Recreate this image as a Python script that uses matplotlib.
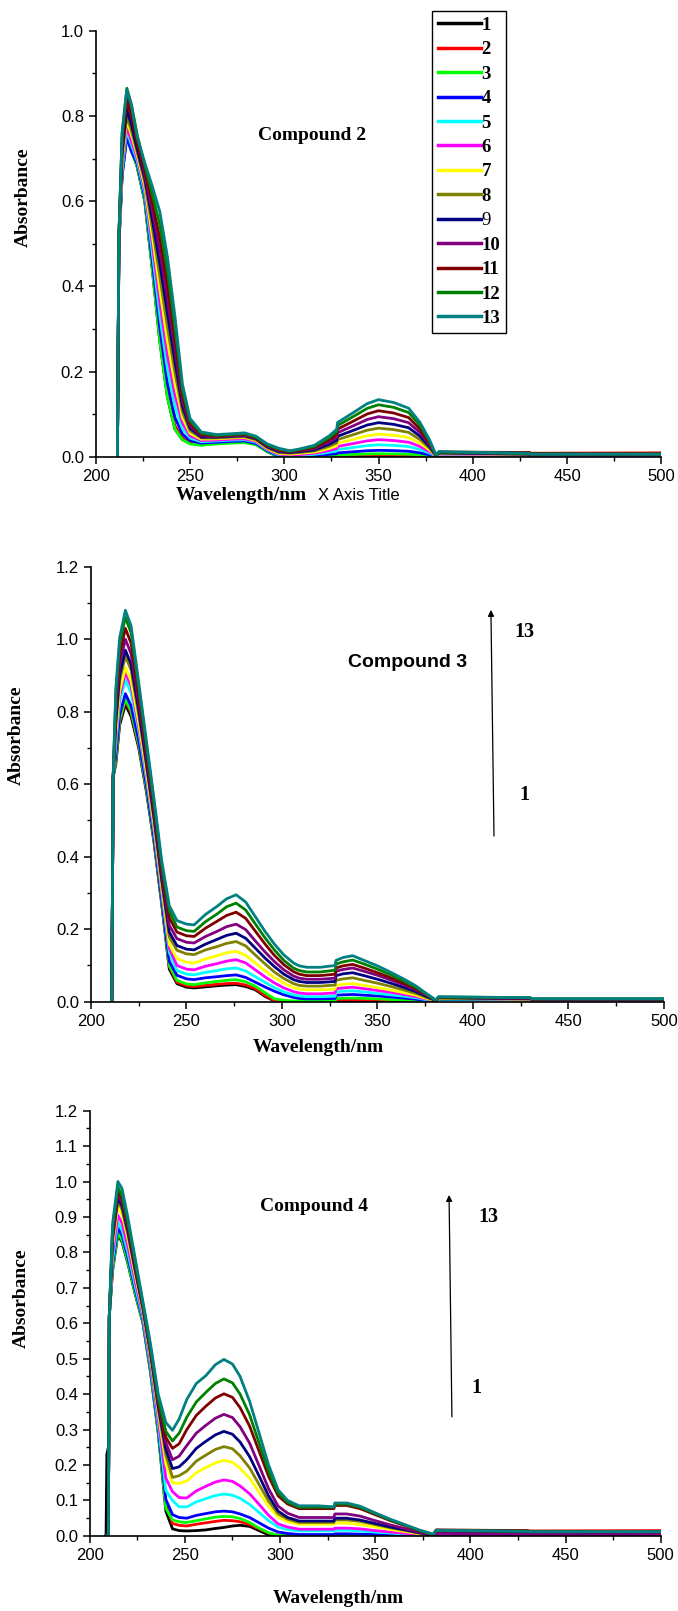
import matplotlib
matplotlib.use("Agg")
import matplotlib.pyplot as plt
from matplotlib.ticker import MultipleLocator, FormatStrFormatter

labels = ["1", "2", "3", "4", "5", "6", "7", "8", "9", "10", "11", "12", "13"]
colors = ["#000000", "#FF0000", "#00FF00", "#0000FF", "#00FFFF", "#FF00FF", "#FFFF00",
          "#808000", "#000080", "#800080", "#800000", "#008000", "#008080"]

# Compound 2 spectra
wl_c2 = [211.5, 212.3, 214, 216.5, 219, 222, 226, 230, 234, 238, 242, 246, 250, 256, 264, 272,
         279, 285, 291, 297, 303, 308, 316, 324, 327.8, 328.3, 336, 344, 350, 358, 366, 372,
         377, 380.5, 382, 430, 431, 500]
abs_c2 = [
    [0, .50, .67, .76, .726, .68, .60, .44, .27, .14, .065, .04, .032, .029, .032, .034, .035, .030, .012, 0, 0, 0, 0, .001, .001, .001, .002, .002, .002, .002, .002, .001, .001, 0, .003, .004, .003, .003],
    [0, .50, .665, .755, .721, .682, .603, .446, .279, .150, .073, .044, .034, .030, .033, .035, .036, .031, .013, .001, 0, 0, .001, .0015, .002, .0024, .003, .0037, .004, .0038, .0034, .0024, .0012, .001, .004, .009, .008, .009],
    [0, .50, .66, .75, .716, .68, .60, .44, .27, .14, .065, .04, .03, .027, .030, .032, .033, .028, .012, 0, 0, 0, .0014, .0026, .0034, .0042, .0053, .0065, .007, .0067, .006, .0042, .0021, .001, .004, .005, .004, .004],
    [0, .50, .66, .75, .716, .687, .609, .46, .301, .173, .092, .053, .038, .032, .034, .036, .037, .031, .014, .002, 0, 0, .003, .0056, .0072, .009, .0114, .014, .015, .0143, .0128, .009, .0045, .001, .004, .005, .004, .004],
    [0, .51, .673, .765, .731, .694, .618, .479, .331, .206, .118, .066, .044, .035, .037, .039, .04, .034, .016, .004, .002, .002, .0056, .0104, .0134, .0168, .0213, .026, .028, .0266, .0238, .0168, .0084, .002, .005, .005, .004, .004],
    [0, .51, .682, .775, .74, .701, .627, .499, .362, .239, .145, .079, .049, .038, .039, .041, .042, .036, .017, .006, .004, .005, .008, .0148, .0192, .024, .0304, .0372, .04, .038, .034, .024, .012, .002, .006, .005, .004, .004],
    [0, .51, .695, .79, .754, .708, .636, .518, .392, .272, .171, .092, .055, .041, .042, .044, .045, .038, .019, .008, .006, .008, .0106, .0196, .0254, .0318, .0403, .0493, .053, .0504, .045, .0318, .0159, .002, .007, .006, .005, .005],
    [0, .52, .704, .80, .764, .715, .645, .538, .423, .305, .198, .105, .061, .044, .044, .046, .047, .040, .021, .010, .008, .010, .0134, .0248, .0322, .0402, .0509, .0623, .067, .0637, .057, .0402, .0201, .002, .008, .006, .005, .005],
    [0, .52, .717, .815, .778, .722, .654, .557, .453, .338, .224, .118, .067, .046, .046, .048, .049, .042, .023, .012, .010, .012, .016, .0296, .0384, .048, .0608, .0744, .08, .076, .068, .048, .024, .003, .009, .006, .005, .005],
    [0, .52, .748, .85, .812, .74, .663, .577, .484, .371, .251, .131, .072, .049, .047, .049, .05, .043, .025, .014, .011, .014, .0188, .0348, .0451, .0564, .0714, .0874, .094, .0893, .0799, .0564, .0282, .003, .010, .007, .005, .005],
    [0, .52, .735, .835, .797, .736, .672, .596, .514, .404, .277, .144, .078, .052, .049, .051, .052, .044, .026, .016, .012, .015, .0216, .040, .0518, .0648, .0821, .1004, .108, .1026, .0918, .0648, .0324, .003, .011, .010, .008, .008],
    [0, .52, .761, .865, .826, .755, .685, .616, .545, .437, .304, .157, .084, .055, .050, .052, .054, .046, .028, .018, .013, .017, .0244, .0451, .0586, .0732, .0927, .1135, .122, .1159, .1037, .0732, .0366, .003, .011, .007, .006, .006],
    [0, .52, .76, .862, .823, .75, .69, .635, .575, .47, .33, .17, .09, .058, .052, .054, .056, .048, .03, .02, .014, .018, .0268, .0496, .0643, .0804, .1018, .1246, .134, .1273, .1139, .0804, .0402, .004, .012, .008, .006, .006],
]

# Compound 3 spectra
wl_c3 = [210.9, 211.6, 213, 215, 218, 221, 225, 229, 233, 237, 241, 245, 250, 254, 260, 266, 271,
         276, 281, 286, 291, 296, 301, 306, 309, 313, 320, 327.8, 328.3, 332, 337, 343, 350, 357,
         364, 370, 375, 380.5, 382, 430, 431, 500]
abs_c3 = [
    [0, .62, .656, .763, .82, .787, .70, .58, .44, .27, .09, .05, .04, .038, .041, .044, .046, .047, .042, .033, .015, .002, 0, 0, 0, 0, 0, 0, .003, .003, .003, .003, .002, .002, .002, .001, .001, .003, .006, .005, .004, .004],
    [0, .62, .664, .772, .83, .797, .707, .586, .445, .275, .097, .054, .044, .042, .045, .048, .05, .051, .046, .036, .018, .003, 0, 0, 0, 0, 0, 0, .005, .006, .006, .005, .005, .004, .003, .002, .001, .003, .006, .005, .004, .004],
    [0, .62, .668, .777, .835, .802, .711, .588, .447, .277, .1, .059, .049, .047, .052, .056, .059, .061, .055, .043, .025, .008, .004, .002, .002, .002, .002, .002, .009, .0096, .01, .009, .008, .006, .005, .0035, .002, .003, .006, .005, .004, .004],
    [0, .62, .68, .791, .85, .816, .722, .597, .454, .284, .111, .073, .063, .061, .066, .069, .072, .074, .067, .054, .041, .029, .019, .012, .009, .008, .008, .009, .018, .019, .02, .018, .016, .013, .01, .007, .004, .003, .007, .006, .005, .005],
    [0, .62, .71, .826, .888, .852, .747, .616, .471, .301, .136, .086, .076, .074, .081, .086, .091, .093, .085, .069, .054, .039, .027, .019, .016, .014, .014, .015, .027, .029, .03, .027, .023, .019, .015, .011, .006, .003, .008, .007, .005, .005],
    [0, .62, .726, .844, .907, .871, .759, .626, .48, .31, .148, .1, .09, .088, .098, .105, .112, .116, .107, .088, .069, .052, .038, .028, .024, .022, .022, .024, .036, .038, .04, .036, .031, .026, .02, .014, .008, .003, .009, .007, .005, .005],
    [0, .62, .738, .857, .922, .885, .77, .635, .487, .317, .158, .119, .109, .107, .118, .127, .135, .139, .128, .107, .086, .067, .051, .039, .035, .033, .033, .035, .045, .048, .05, .045, .039, .032, .025, .018, .01, .003, .009, .007, .006, .006],
    [0, .62, .762, .886, .953, .915, .792, .651, .501, .331, .179, .142, .132, .13, .143, .152, .161, .166, .154, .129, .105, .082, .064, .05, .045, .043, .043, .046, .059, .063, .066, .059, .051, .042, .032, .023, .013, .003, .01, .008, .006, .006],
    [0, .62, .776, .902, .97, .931, .804, .661, .51, .34, .192, .155, .145, .143, .159, .172, .183, .189, .175, .148, .121, .097, .076, .061, .056, .053, .053, .056, .072, .077, .08, .072, .062, .051, .039, .028, .016, .003, .011, .008, .006, .006],
    [0, .62, .8, .93, 1.0, .96, .824, .677, .523, .353, .211, .174, .164, .162, .18, .194, .207, .214, .199, .168, .138, .111, .088, .071, .065, .062, .062, .065, .084, .089, .093, .084, .073, .06, .046, .033, .019, .003, .012, .009, .007, .007],
    [0, .62, .824, .958, 1.03, .989, .846, .693, .537, .367, .232, .192, .182, .18, .203, .222, .238, .247, .23, .195, .16, .128, .102, .083, .076, .072, .072, .076, .093, .099, .103, .093, .08, .066, .05, .036, .021, .003, .012, .01, .007, .007],
    [0, .62, .848, .986, 1.06, 1.018, .866, .709, .55, .38, .251, .206, .196, .194, .221, .242, .262, .272, .253, .215, .177, .143, .114, .093, .086, .082, .082, .087, .104, .11, .115, .104, .09, .074, .056, .04, .023, .003, .013, .011, .008, .008],
    [0, .62, .864, 1.004, 1.08, 1.037, .88, .72, .56, .39, .265, .224, .214, .212, .241, .263, .284, .295, .275, .235, .195, .159, .129, .107, .099, .095, .095, .1, .114, .122, .127, .114, .099, .081, .062, .044, .025, .005, .014, .011, .008, .008],
]

# Compound 4 spectra
wl_c4 = [208.6, 209.0, 209.8, 210.3, 212, 214.8, 217, 220, 224, 228, 232, 236, 240, 243.5, 247,
         251, 256, 261, 266, 270.5, 275, 279, 284, 289, 294, 299, 304, 310, 320, 328.3, 328.8,
         335, 342, 350, 358, 366, 373, 380.5, 382, 430, 431, 500]
abs_c4 = [
    [0, .23, .25, .62, .748, .85, .829, .77, .68, .6, .46, .29, .07, .02, .015, .014, .015, .017, .021, .024, .028, .03, .027, .015, .003, 0, 0, 0, 0, 0, .002, .002, .002, .001, .001, .001, 0, 0, .004, .003, .003, .003],
    [0, 0, 0, .62, .757, .86, .839, .779, .687, .604, .466, .298, .088, .035, .03, .028, .033, .037, .041, .044, .043, .04, .032, .02, .008, .002, 0, 0, 0, 0, .002, .002, .002, .001, .001, .001, 0, .003, .016, .015, .014, .015],
    [0, 0, 0, .62, .752, .855, .834, .774, .683, .602, .462, .293, .078, .045, .04, .038, .043, .048, .053, .055, .054, .049, .038, .022, .009, .002, 0, 0, 0, 0, .003, .003, .003, .002, .001, .001, 0, .003, .006, .005, .004, .004],
    [0, 0, 0, .62, .766, .87, .848, .787, .693, .608, .47, .304, .103, .06, .052, .05, .058, .063, .068, .07, .068, .062, .052, .037, .022, .011, .007, .004, .004, .004, .006, .006, .005, .004, .003, .002, .001, .002, .005, .004, .003, .003],
    [0, 0, 0, .62, .779, .885, .863, .8, .703, .614, .478, .315, .128, .1, .082, .082, .096, .105, .114, .118, .115, .106, .089, .066, .043, .025, .018, .014, .014, .014, .016, .016, .014, .011, .008, .005, .003, .002, .007, .006, .005, .005],
    [0, 0, 0, .62, .796, .905, .882, .818, .717, .622, .49, .331, .163, .125, .108, .107, .127, .14, .152, .158, .154, .141, .119, .089, .058, .034, .025, .019, .019, .019, .022, .022, .02, .015, .011, .007, .004, .002, .005, .004, .003, .003],
    [0, 0, 0, .62, .818, .93, .907, .839, .733, .632, .502, .348, .203, .15, .148, .155, .178, .193, .206, .213, .208, .191, .163, .123, .083, .053, .04, .033, .033, .033, .036, .036, .032, .025, .018, .012, .006, .002, .008, .007, .006, .006],
    [0, 0, 0, .62, .832, .945, .921, .852, .743, .638, .51, .359, .228, .165, .17, .183, .211, .228, .244, .252, .246, .226, .192, .145, .098, .062, .047, .038, .038, .038, .045, .045, .041, .032, .023, .015, .008, .002, .01, .008, .008, .008],
    [0, 0, 0, .62, .84, .955, .931, .861, .75, .642, .516, .367, .245, .19, .195, .215, .247, .267, .285, .295, .287, .265, .224, .169, .113, .07, .052, .042, .042, .042, .05, .05, .045, .035, .025, .017, .009, .002, .011, .009, .008, .008],
    [0, 0, 0, .62, .849, .965, .941, .87, .757, .646, .522, .375, .263, .215, .225, .255, .29, .312, .332, .343, .334, .308, .262, .198, .133, .084, .064, .052, .052, .052, .062, .062, .056, .043, .031, .02, .011, .002, .007, .005, .004, .004],
    [0, 0, 0, .62, .858, .975, .951, .878, .763, .65, .526, .381, .278, .247, .26, .3, .34, .366, .389, .401, .391, .362, .31, .239, .168, .113, .09, .077, .077, .077, .086, .086, .077, .06, .043, .028, .015, .003, .017, .015, .013, .013],
    [0, 0, 0, .62, .867, .985, .96, .887, .77, .654, .532, .389, .295, .268, .29, .335, .378, .405, .43, .443, .432, .4, .342, .262, .182, .121, .095, .081, .081, .081, .09, .09, .081, .063, .045, .03, .016, .004, .015, .013, .012, .012],
    [0, 0, 0, .62, .88, 1.0, .98, .9, .78, .66, .54, .4, .32, .298, .33, .385, .43, .452, .483, .498, .485, .45, .38, .29, .2, .13, .1, .085, .085, .082, .093, .093, .084, .065, .047, .031, .017, .005, .016, .013, .012, .012],
]

SERIF = "Liberation Serif"
SANS = "Liberation Sans"

fig = plt.figure(figsize=(6.78, 16.11), dpi=100)
ax1 = fig.add_axes([0.1412, 0.7165, 0.8342, 0.2644])
ax2 = fig.add_axes([0.1342, 0.3782, 0.8451, 0.2700])
ax3 = fig.add_axes([0.1323, 0.0466, 0.8422, 0.2640])


def draw(ax, wl, spectra, ymax, ymajor, yminor):
    lines = []
    for vals, c, lab in zip(spectra, colors, labels):
        ln, = ax.plot(wl, vals, color=c, lw=2.0, label=lab, solid_joinstyle="round")
        lines.append(ln)
    ax.set_xlim(200, 500)
    ax.set_ylim(0, ymax)
    ax.spines["top"].set_visible(False)
    ax.spines["right"].set_visible(False)
    for s in ("left", "bottom"):
        ax.spines[s].set_linewidth(1.2)
    ax.xaxis.set_major_locator(MultipleLocator(50))
    ax.xaxis.set_minor_locator(MultipleLocator(25))
    ax.yaxis.set_major_locator(MultipleLocator(ymajor))
    ax.yaxis.set_minor_locator(MultipleLocator(yminor))
    ax.yaxis.set_major_formatter(FormatStrFormatter("%.1f"))
    ax.tick_params(which="major", direction="out", length=5, width=1.1, pad=3.5)
    ax.tick_params(which="minor", direction="out", length=3, width=1.0)
    for t in ax.get_xticklabels() + ax.get_yticklabels():
        t.set_fontfamily(SANS)
        t.set_fontsize(12)
    ax.set_ylabel("Absorbance", fontfamily=SERIF, fontweight="bold", fontsize=14)
    return lines


lines1 = draw(ax1, wl_c2, abs_c2, 1.0, 0.2, 0.1)
draw(ax2, wl_c3, abs_c3, 1.2, 0.2, 0.1)
draw(ax3, wl_c4, abs_c4, 1.2, 0.1, 0.05)

ax1.yaxis.set_label_coords(-0.1125, 0.61)
ax2.yaxis.set_label_coords(-0.115, 0.613)
ax3.yaxis.set_label_coords(-0.1045, 0.56)

# x axis titles
ax1.text(0.257, -0.09, "Wavelength/nm", transform=ax1.transAxes, ha="center", va="center",
         fontfamily=SERIF, fontweight="bold", fontsize=14)
ax1.text(0.466, -0.09, "X Axis Title", transform=ax1.transAxes, ha="center", va="center",
         fontfamily=SANS, fontsize=12)
ax2.text(0.396, -0.105, "Wavelength/nm", transform=ax2.transAxes, ha="center", va="center",
         fontfamily=SERIF, fontweight="bold", fontsize=14)
ax3.text(0.435, -0.148, "Wavelength/nm", transform=ax3.transAxes, ha="center", va="center",
         fontfamily=SERIF, fontweight="bold", fontsize=14)

# compound names
ax1.text(0.382, 0.755, "Compound 2", transform=ax1.transAxes, ha="center", va="center",
         fontfamily=SERIF, fontweight="bold", fontsize=14)
ax2.text(0.553, 0.779, "Compound 3", transform=ax2.transAxes, ha="center", va="center",
         fontfamily=SANS, fontweight="bold", fontsize=14)
ax3.text(0.393, 0.774, "Compound 4", transform=ax3.transAxes, ha="center", va="center",
         fontfamily=SERIF, fontweight="bold", fontsize=14)

# titration direction arrows
arrow = dict(arrowstyle="-|>", color="black", lw=0.9, mutation_scale=9, shrinkA=0, shrinkB=0)
ax2.annotate("", xy=(409.4, 1.081), xytext=(411.0, 0.457), arrowprops=arrow)
ax2.text(427.2, 1.02, "13", ha="center", va="center", fontfamily=SERIF, fontweight="bold", fontsize=14.5)
ax2.text(426.7, 0.57, "1", ha="center", va="center", fontfamily=SERIF, fontweight="bold", fontsize=14.5)
ax3.annotate("", xy=(388.8, 0.962), xytext=(390.3, 0.336), arrowprops=arrow)
ax3.text(409.3, 0.90, "13", ha="center", va="center", fontfamily=SERIF, fontweight="bold", fontsize=14.5)
ax3.text(403.0, 0.418, "1", ha="center", va="center", fontfamily=SERIF, fontweight="bold", fontsize=14.5)

leg = ax1.legend(handles=lines1, loc="upper left", bbox_to_anchor=(432 / 678, 1 - 11 / 1611),
                 bbox_transform=fig.transFigure, prop=dict(family=SERIF, weight="bold", size=13.5),
                 handlelength=2.3, handletextpad=0.05, labelspacing=0.39, borderpad=0.3,
                 borderaxespad=0, fancybox=False, framealpha=1, edgecolor="black")
leg.get_frame().set_linewidth(1.0)
leg.get_texts()[8].set_fontweight("normal")
for h in leg.legend_handles:
    h.set_linewidth(2.5)

fig.savefig("out.png", dpi=100)
